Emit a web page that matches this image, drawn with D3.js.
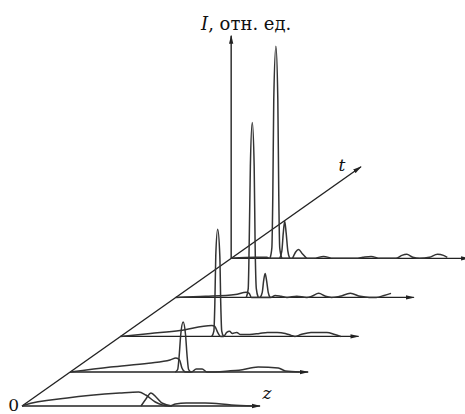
<!DOCTYPE html>
<html><head><meta charset="utf-8">
<script src="https://cdn.jsdelivr.net/npm/d3@7"></script>
<style>body{margin:0;background:#fff}svg{display:block}</style>
</head><body><svg id="c" width="465" height="414"></svg>
<script>
// ---- data ----
const sliceT = [0, 1, 2.05, 3.2, 4.35];   // position of each z-profile along the t axis
const tAxisMax = 7.05;
const zAxisMax = 10;
const iAxisMax = 105;
const labelOrigin = "0";
const labelT = "t";
const labelZ = "z";
const labelI = "I";
const labelIUnit = ", отн. ед.";

// each profile: [z, I]
const s1Broad = [[0,0],[0.12,0.5],[1.9,3.8],[4.1,6.1],[4.9,6.6],[5.2,5.2],[5.6,1.9],[6.2,0],[6.45,0.9],[6.9,1.4],[7.7,1.4],[8.8,0.5],[9.7,0]];
const s1Pulse = [[5.0,0],[5.2,3.2],[5.42,6.1],[5.65,4.0],[5.9,1.3],[6.3,0]];

const s2Broad = [[0,0],[1.7,2.4],[3.3,4.2],[4.2,5.7],[4.45,6.6],[4.6,5.7],[4.7,1.9],[4.85,0],[5.1,0],[5.3,1.4],[5.55,1.4],[5.75,0],[6.65,0.5],[7.1,0.9],[7.9,2.4],[8.75,1.9],[9.05,0.5],[9.65,0]];
const s2Pulse = [[4.42,0],[4.52,1.2],[4.58,7.1],[4.65,17.7],[4.75,23.6],[4.85,17.7],[4.92,7.1],[4.98,1.2],[5.08,0]];

const s3Broad = [[0,0],[1.25,1.4],[2.5,2.8],[3.83,5.2],[3.96,4.7],[4.08,1.9],[4.2,0],[4.33,0],[4.46,1.9],[4.58,2.4],[4.7,1.4],[4.88,1.9],[5.04,0.9],[5.42,0.9],[5.83,1.4],[6.17,1.9],[6.58,1.9],[6.92,1.4],[7.17,0.5],[7.33,0],[7.58,0.9],[8,1.9],[8.67,1.9],[9,0.9],[9.25,0]];
const s3Pulse = [[3.83,0],[3.92,2.5],[3.96,15],[4.0,38],[4.08,50.5],[4.17,38],[4.21,15],[4.25,2.5],[4.33,0]];

const s4Broad = [[0,0],[1.25,0.5],[2.5,1.4],[2.96,2.4],[3.08,1.9],[3.17,0],[4,0],[4.17,0.9],[4.42,0.5],[4.67,0],[5.08,0.5],[5.5,0],[5.71,0.5],[6,1.9],[6.29,0.5],[6.54,0],[6.88,0.5],[7.33,1.9],[7.75,0.5],[8.13,0],[8.42,0],[8.75,0.9],[9.04,1.9]];
const s4Pulse = [[2.96,0],[3.04,4.1],[3.08,24.8],[3.13,61.9],[3.21,82.5],[3.29,61.9],[3.33,24.8],[3.38,4.1],[3.46,0]];
const s4Echo = [[3.54,0],[3.63,2.4],[3.69,8],[3.75,11.3],[3.81,8],[3.88,2.4],[3.96,0]];

const s5Broad = [[0,0],[1.04,0.5],[1.5,0.5],[1.63,0],[3.17,0],[3.46,0],[3.88,0.9],[4.29,0],[5.25,0],[5.54,0.5],[5.88,0.9],[6.25,0],[6.92,0],[7.17,1.4],[7.38,1.9],[7.63,0.5],[7.92,0],[8.33,0.5],[8.67,1.9],[8.92,1.4],[9.08,0.5]];
const s5Pulse = [[1.63,0],[1.71,5],[1.75,30],[1.79,75],[1.88,100],[1.96,75],[2.0,30],[2.04,5],[2.13,0]];
const s5Echo = [[2.04,0],[2.13,3.5],[2.19,12],[2.25,17.5],[2.31,12],[2.38,3.5],[2.46,0]];
const s5Hump = [[2.58,0],[2.71,3],[2.83,4.2],[3.0,2],[3.17,0]];

const sliceCurves = [
  [s1Broad, s1Pulse],
  [s2Broad, s2Pulse],
  [s3Broad, s3Pulse],
  [s4Broad, s4Pulse, s4Echo],
  [s5Broad, s5Pulse, s5Echo, s5Hump]
];

// ---- layout ----
const svg = d3.select("#c");
const origin = {x: 22, y: 406};
const ang = Math.atan2(240, 340);
const ca = Math.cos(ang), sa = Math.sin(ang);
const tScale = d3.scaleLinear().domain([0, 7]).range([0, 412]);
const zScale = d3.scaleLinear().domain([0, 10]).range([0, 238]);
const iScale = d3.scaleLinear().domain([0, 100]).range([0, 212]);

function px(t, z, I) {
  const d = tScale(t);
  return [origin.x + d * ca + zScale(z), origin.y - d * sa - iScale(I)];
}

const defs = svg.append("defs");
defs.append("marker").attr("id", "arr")
  .attr("markerUnits", "userSpaceOnUse")
  .attr("viewBox", "0 0 10 6").attr("refX", 9).attr("refY", 3)
  .attr("markerWidth", 9).attr("markerHeight", 5.4).attr("orient", "auto")
  .append("path").attr("d", "M0,0.6 L10,3 L0,5.4 Z").attr("fill", "#222");

const axisG = svg.append("g").attr("fill", "none").attr("stroke", "#222").attr("stroke-width", 1.4);

// t axis
axisG.append("path")
  .attr("d", d3.line()([px(0, 0, 0), px(tAxisMax, 0, 0)]))
  .attr("marker-end", "url(#arr)");

// z baselines
sliceT.forEach(t => {
  axisG.append("path")
    .attr("d", d3.line()([px(t, 0, 0), px(t, zAxisMax, 0)]))
    .attr("marker-end", "url(#arr)");
});

// I axis (at last slice)
const tLast = sliceT[sliceT.length - 1];
axisG.append("path")
  .attr("d", d3.line()([px(tLast, 0, 0), px(tLast, 0, iAxisMax)]))
  .attr("marker-end", "url(#arr)");

// curves
const curveG = svg.append("g").attr("fill", "none").attr("stroke", "#333")
  .attr("stroke-width", 1.5).attr("stroke-linejoin", "round");
sliceCurves.forEach((curves, i) => {
  const t = sliceT[i];
  const line = d3.line()
    .x(d => px(t, d[0], d[1])[0])
    .y(d => px(t, d[0], d[1])[1])
    .curve(d3.curveMonotoneX);
  curves.forEach(c => curveG.append("path").attr("d", line(c)));
});

// labels
const font = "'DejaVu Serif', 'Liberation Serif', serif";
const o = px(0, 0, 0);
svg.append("text").attr("x", o[0] - 3).attr("y", o[1] + 5)
  .attr("text-anchor", "end").attr("font-family", font).attr("font-size", 17)
  .attr("fill", "#111").text(labelOrigin);

const tEnd = px(tAxisMax, 0, 0);
svg.append("text").attr("x", tEnd[0] - 19).attr("y", tEnd[1] + 4)
  .attr("text-anchor", "middle").attr("font-family", font).attr("font-style", "italic")
  .attr("font-size", 17).attr("fill", "#111").text(labelT);

const zEnd = px(0, zAxisMax, 0);
svg.append("text").attr("x", zEnd[0] + 7).attr("y", zEnd[1] - 7)
  .attr("text-anchor", "middle").attr("font-family", font).attr("font-style", "italic")
  .attr("font-size", 17).attr("fill", "#111").text(labelZ);

const iEnd = px(tLast, 0, iAxisMax);
const it = svg.append("text").attr("x", iEnd[0] + 15).attr("y", iEnd[1] - 6)
  .attr("text-anchor", "middle").attr("font-family", font)
  .attr("font-size", 18).attr("fill", "#111");
it.append("tspan").attr("font-style", "italic").text(labelI);
it.append("tspan").text(labelIUnit);
</script></body></html>
